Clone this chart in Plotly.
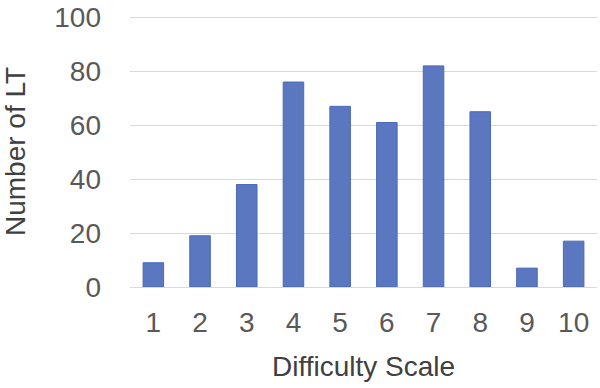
import plotly.graph_objects as go

categories = ["1", "2", "3", "4", "5", "6", "7", "8", "9", "10"]
counts = [9, 19, 38, 76, 67, 61, 82, 65, 7, 17]
y_ticks = [0, 20, 40, 60, 80, 100]

font_family = "Liberation Sans, Arial, sans-serif"
text_color = "#595959"
title_color = "#404040"
fs = 28

fig = go.Figure(
    go.Bar(
        x=categories,
        y=counts,
        marker=dict(color="#5B77BF", line=dict(color="#4A69BA", width=1)),
        hoverinfo="x+y",
    )
)

fig.update_layout(
    width=600,
    height=388,
    margin=dict(l=130, r=3, t=16, b=101, autoexpand=False),
    paper_bgcolor="white",
    plot_bgcolor="white",
    bargap=0.56,
    showlegend=False,
    font=dict(family=font_family, size=fs, color=text_color),
)

fig.update_xaxes(
    type="category",
    showgrid=False,
    showline=True,
    linecolor="#D9D9D9",
    linewidth=1,
    ticks="",
    ticklabelstandoff=10,
    tickfont=dict(size=fs, color=text_color),
    title=dict(text="Difficulty Scale", font=dict(size=fs, color=title_color), standoff=19),
    automargin=False,
)

fig.update_yaxes(
    range=[0, 100.5],
    tickvals=y_ticks,
    ticktext=[str(v) for v in y_ticks],
    showgrid=True,
    gridcolor="#D9D9D9",
    gridwidth=1,
    zeroline=False,
    showline=False,
    ticks="",
    ticklabelstandoff=28,
    tickfont=dict(size=fs, color=text_color),
    title=dict(text="Number of LT", font=dict(size=fs, color=title_color), standoff=24),
    automargin=False,
)

fig.write_html(
    "out.html",
    config={"displayModeBar": False},
    post_script="document.body.style.margin='0';document.body.style.padding='0';",
)
